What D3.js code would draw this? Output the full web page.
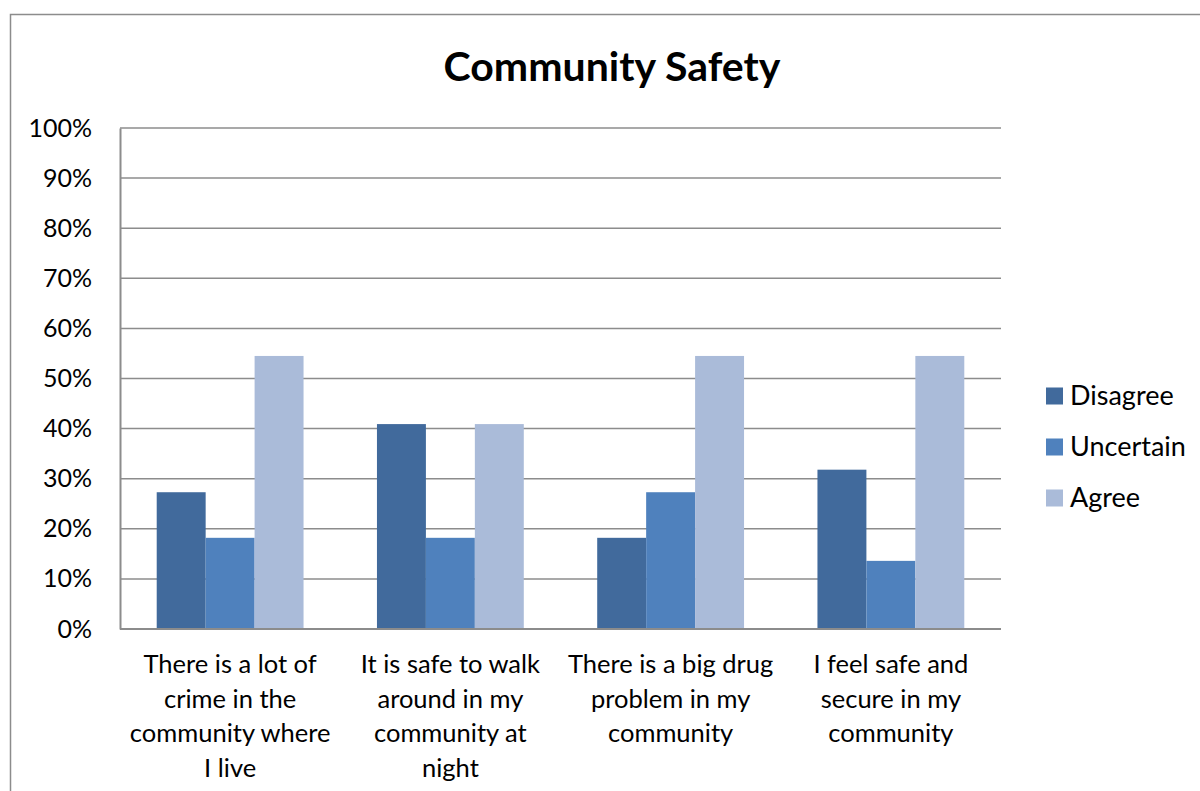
<!DOCTYPE html>
<html>
<head>
<meta charset="utf-8">
<script src="https://cdn.jsdelivr.net/npm/d3@7"></script>
<style>
  html, body { margin: 0; padding: 0; background: #fff; }
  svg { display: block; font-family: Lato, "Open Sans", sans-serif; }
</style>
</head>
<body>
<svg id="chart" width="1200" height="791"></svg>
<script>
const categories = [
  ["There is a lot of", "crime in the", "community where", "I live"],
  ["It is safe to walk", "around in my", "community at", "night"],
  ["There is a big drug", "problem in my", "community"],
  ["I feel safe and", "secure in my", "community"],
]
const seriesNames = ["Disagree", "Uncertain", "Agree"]
const disagree = [0.273, 0.409, 0.182, 0.318]
const uncertain = [0.182, 0.182, 0.273, 0.136]
const agree = [0.545, 0.409, 0.545, 0.545]
const yTicks = [0, 0.1, 0.2, 0.3, 0.4, 0.5, 0.6, 0.7, 0.8, 0.9, 1]
const colors = ["#416a9c", "#4f81bd", "#aabbd9"]

const values = [disagree, uncertain, agree]
const data = categories.map((c, i) => ({
  key: i,
  lines: c,
  vals: seriesNames.map((s, j) => ({s, v: values[j][i]})),
}))

const svg = d3.select("#chart")
const m = {left: 120, top: 128, right: 199, bottom: 162}
const width = 1200, height = 791
const iw = width - m.left - m.right
const ih = height - m.top - m.bottom

// outer chart frame
svg.append("rect")
  .attr("x", 10.5).attr("y", 14.5)
  .attr("width", 1200).attr("height", 800)
  .attr("fill", "none").attr("stroke", "#8c8c8c").attr("stroke-width", 1.5)

svg.append("text")
  .attr("x", 612).attr("y", 81)
  .attr("text-anchor", "middle")
  .attr("font-size", 41).attr("font-weight", "bold")
  .text("Community Safety")

const g = svg.append("g").attr("transform", `translate(${m.left},${m.top})`)

const x0 = d3.scaleBand().domain(data.map((d) => d.key)).range([0, iw])
  .paddingInner(1 / 3).paddingOuter(1 / 6)
const x1 = d3.scaleBand().domain(seriesNames).range([0, x0.bandwidth()])
const y = d3.scaleLinear().domain([0, 1]).range([ih, 0])
const color = d3.scaleOrdinal().domain(seriesNames).range(colors)

// gridlines
g.append("g")
  .selectAll("line")
  .data(yTicks.slice(1))
  .join("line")
  .attr("x1", 0).attr("x2", iw)
  .attr("y1", (d) => y(d)).attr("y2", (d) => y(d))
  .attr("stroke", "#8c8c8c").attr("stroke-width", 1.5)

// bars
g.append("g")
  .selectAll("g")
  .data(data)
  .join("g")
  .attr("transform", (d) => `translate(${x0(d.key)},0)`)
  .selectAll("rect")
  .data((d) => d.vals)
  .join("rect")
  .attr("x", (d) => x1(d.s))
  .attr("width", x1.bandwidth())
  .attr("y", (d) => y(d.v))
  .attr("height", (d) => ih - y(d.v))
  .attr("fill", (d) => color(d.s))

// y axis
const yAxis = g.append("g")
  .call(d3.axisLeft(y).tickValues(yTicks).tickFormat(d3.format(".0%")).tickSize(0).tickPadding(28))
yAxis.select(".domain").attr("stroke", "#8c8c8c").attr("stroke-width", 2)
yAxis.selectAll("text").attr("font-size", 25).attr("fill", "#000")
  .attr("font-family", "Lato, 'Open Sans', sans-serif")

// x axis baseline
g.append("line")
  .attr("x1", 0).attr("x2", iw).attr("y1", ih).attr("y2", ih)
  .attr("stroke", "#8c8c8c").attr("stroke-width", 2)

// category labels
const lab = g.append("g")
  .selectAll("text")
  .data(data)
  .join("text")
  .attr("text-anchor", "middle")
  .attr("font-size", 25.5)
  .attr("x", (d) => x0(d.key) + x0.bandwidth() / 2)
  .attr("y", ih + 44)
lab.selectAll("tspan")
  .data((d) => d.lines)
  .join("tspan")
  .attr("x", function () { return d3.select(this.parentNode).attr("x") })
  .attr("dy", (d, i) => (i === 0 ? 0 : 34.5))
  .text((d) => d)

// legend
const legend = svg.append("g").attr("transform", "translate(1046,396)")
const li = legend.selectAll("g")
  .data(seriesNames)
  .join("g")
  .attr("transform", (d, i) => `translate(0,${i * 51})`)
li.append("rect")
  .attr("x", 0).attr("y", -8.5).attr("width", 17).attr("height", 17)
  .attr("fill", (d) => color(d))
li.append("text")
  .attr("x", 24).attr("y", 9)
  .attr("font-size", 27)
  .text((d) => d)
</script>
</body>
</html>
